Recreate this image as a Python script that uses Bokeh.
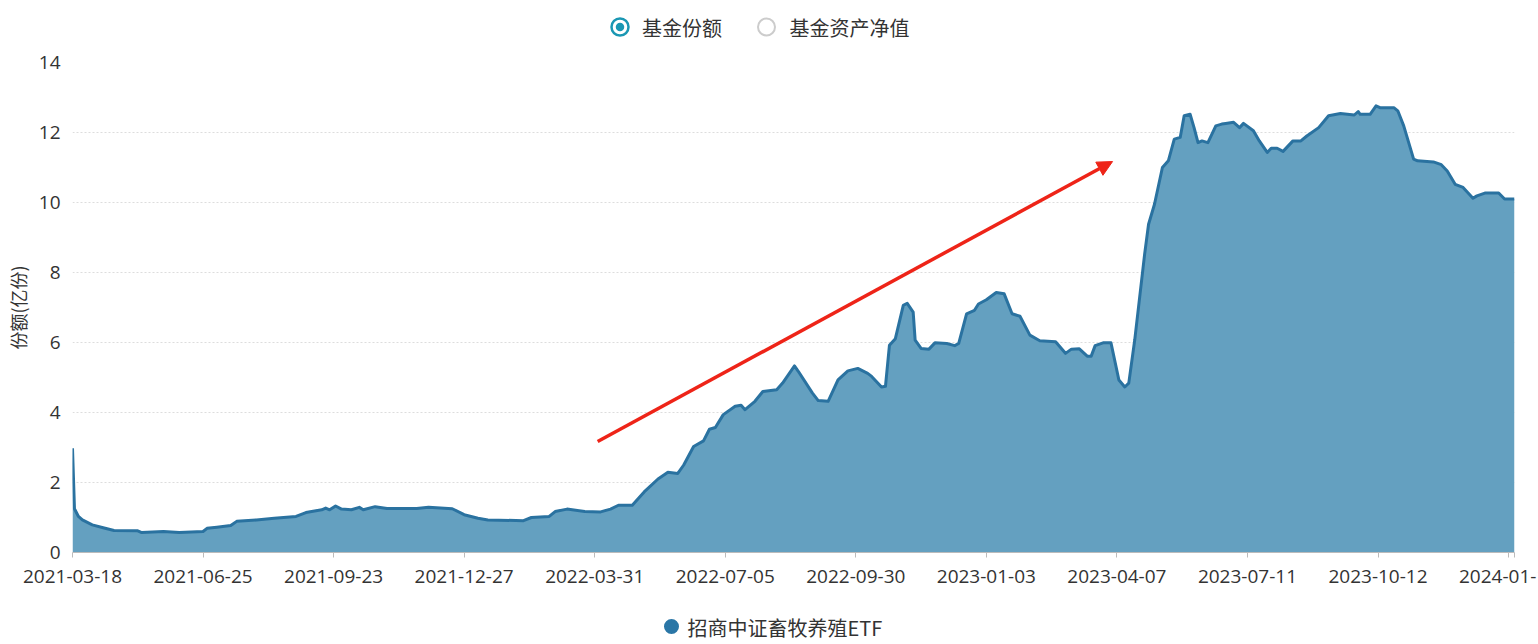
from bokeh.plotting import figure
from bokeh.models import Range1d, FixedTicker, Arrow, NormalHead
from bokeh.layouts import column
from bokeh.core.properties import value
from bokeh.embed import file_html
from bokeh.resources import INLINE

# ---------------- data ----------------
tick_labels = ["2021-03-18", "2021-06-25", "2021-09-23", "2021-12-27",
               "2022-03-31", "2022-07-05", "2022-09-30", "2023-01-03",
               "2023-04-07", "2023-07-11", "2023-10-12", "2024-01-15"]
label_step = 66  # trading days between labelled categories

trading_day = [0, 1, 3, 5, 10, 16, 21, 33, 35, 46, 54, 66, 68, 73, 80, 83, 93,
               102, 113, 118, 126, 128, 130, 133, 136, 141, 145, 147, 153, 159,
               174, 180, 192, 198, 205, 210, 228, 232, 241, 244, 250, 259, 267,
               272, 276, 283, 289, 296, 301, 306, 309, 314, 319, 322, 325, 329,
               335, 338, 340, 345, 349, 356, 359, 365, 367, 374, 377, 382, 387,
               392, 397, 402, 404, 409, 411, 413, 416, 420, 422, 425, 426, 429,
               433, 436, 442, 446, 448, 452, 456, 458, 462, 467, 471, 475, 479,
               484, 489, 497, 502, 505, 509, 513, 515, 517, 521, 525, 529, 532,
               534, 537, 542, 544, 547, 551, 554, 557, 560, 562, 565, 567, 569,
               571, 574, 578, 581, 583, 587, 590, 592, 597, 600, 604, 606, 609,
               612, 617, 621, 624, 630, 635, 641, 648, 650, 651, 656, 659, 661,
               668, 670, 673, 678, 680, 688, 692, 695, 699, 703, 708, 710, 714,
               721, 724, 729]

share = [2.98, 1.25, 1.03, 0.93, 0.79, 0.70, 0.63, 0.62, 0.57, 0.60, 0.57, 0.60,
         0.69, 0.72, 0.77, 0.89, 0.93, 0.98, 1.03, 1.14, 1.22, 1.27, 1.22, 1.33,
         1.24, 1.22, 1.29, 1.22, 1.31, 1.26, 1.26, 1.29, 1.25, 1.08, 0.98, 0.93,
         0.91, 1.00, 1.03, 1.17, 1.24, 1.17, 1.16, 1.24, 1.35, 1.35, 1.73, 2.10,
         2.29, 2.26, 2.50, 3.03, 3.19, 3.52, 3.57, 3.94, 4.18, 4.21, 4.08, 4.32,
         4.60, 4.65, 4.84, 5.33, 5.17, 4.56, 4.34, 4.32, 4.93, 5.19, 5.26, 5.12,
         5.03, 4.73, 4.75, 5.92, 6.11, 7.06, 7.12, 6.87, 6.07, 5.83, 5.81, 5.99,
         5.97, 5.91, 5.97, 6.82, 6.92, 7.10, 7.22, 7.43, 7.39, 6.82, 6.75, 6.21,
         6.05, 6.02, 5.69, 5.81, 5.82, 5.61, 5.61, 5.91, 5.99, 5.99, 4.93, 4.73,
         4.84, 6.07, 8.52, 9.38, 9.95, 11.00, 11.19, 11.81, 11.86, 12.48, 12.52,
         12.14, 11.71, 11.76, 11.71, 12.19, 12.24, 12.26, 12.29, 12.14, 12.26,
         12.05, 11.76, 11.43, 11.55, 11.55, 11.46, 11.76, 11.76, 11.90, 12.14,
         12.48, 12.54, 12.50, 12.60, 12.52, 12.52, 12.76, 12.71, 12.71, 12.62,
         12.19, 11.24, 11.19, 11.16, 11.08, 10.90, 10.52, 10.43, 10.12, 10.19,
         10.27, 10.27, 10.10, 10.10]

y_ticks = [0, 2, 4, 6, 8, 10, 12, 14]
series_name = "招商中证畜牧养殖ETF"
tab_labels = ["基金份额", "基金资产净值"]
y_title = "份额(亿份)"

# annotation arrow (data coordinates)
arrow_start = (265.5, 3.17)
arrow_end = (525.8, 11.17)

# ---------------- styles ----------------
LINE = "#2a72a0"
FILL = "#64a0c0"
TEAL = "#1a97b3"
RED = "#ee2418"
TXT = "#333333"
CJK = "Noto Sans CJK SC"
W = 1538
FRAME_L, FRAME_R = 72, 1514   # plot frame edges (px); shared by all rows (column aligns frames)

# ---------------- top tabs (legend-like selector) ----------------
top = figure(width=W, height=40, x_range=Range1d(FRAME_L, FRAME_R), y_range=Range1d(40, 0),
             toolbar_location=None, output_backend="svg",
             x_axis_location=None, y_axis_location=None, min_border=0)
top.grid.visible = False
top.outline_line_color = None
top.scatter([619.5], [26.5], size=17, fill_color="white", line_color=TEAL, line_width=2.5)
top.scatter([619.5], [26.5], size=8.5, fill_color=TEAL, line_color=None)
top.text([641.5], [26.5], text=[tab_labels[0]], text_baseline="middle",
         text_font=value(CJK), text_font_size="20px", text_color=TXT)
top.scatter([766], [26.5], size=17, fill_color="white", line_color="#cccccc", line_width=2)
top.text([789], [26.5], text=[tab_labels[1]], text_baseline="middle",
         text_font=value(CJK), text_font_size="20px", text_color=TXT)

# ---------------- main chart ----------------
last_day = trading_day[-1]
p = figure(width=W, height=564, x_range=Range1d(0, last_day), y_range=Range1d(0, 14),
           toolbar_location=None, output_backend="svg",
           min_border_left=FRAME_L, min_border_right=W - FRAME_R,
           min_border_top=22, min_border_bottom=52)
p.outline_line_color = None

p.varea(x=trading_day, y1=0, y2=share, fill_color=FILL, fill_alpha=1.0)
p.line(trading_day, share, line_color=LINE, line_width=3, line_join="round")

p.add_layout(Arrow(end=NormalHead(size=15, fill_color=RED, line_color=RED),
                   x_start=arrow_start[0], y_start=arrow_start[1],
                   x_end=arrow_end[0], y_end=arrow_end[1],
                   line_color=RED, line_width=3.5))

tick_days = [i * label_step for i in range(len(tick_labels))]
overrides = {d: lab for d, lab in zip(tick_days, tick_labels)}
overrides[last_day] = ""
p.xaxis.ticker = FixedTicker(ticks=tick_days + [last_day])
p.xaxis.major_label_overrides = overrides
p.xaxis.minor_tick_line_color = None
p.xaxis.major_tick_out = 5
p.xaxis.major_tick_in = 0
p.xaxis.axis_line_color = "#bbbbbb"
p.xaxis.major_tick_line_color = "#bbbbbb"
p.xaxis.major_label_standoff = 12
p.xaxis.major_label_text_font = "Open Sans"
p.xaxis.major_label_text_font_size = "19px"
p.xaxis.major_label_text_color = TXT

p.yaxis.ticker = FixedTicker(ticks=y_ticks)
p.yaxis.axis_line_color = None
p.yaxis.major_tick_line_color = None
p.yaxis.major_tick_out = 0
p.yaxis.major_tick_in = 0
p.yaxis.minor_tick_line_color = None
p.yaxis.minor_tick_out = 0
p.yaxis.major_label_standoff = 12
p.yaxis.major_label_text_font = "Open Sans"
p.yaxis.major_label_text_font_size = "19px"
p.yaxis.major_label_text_color = TXT
p.yaxis.axis_label = y_title
p.yaxis.axis_label_text_font = CJK
p.yaxis.axis_label_text_font_size = "18px"
p.yaxis.axis_label_text_font_style = "normal"
p.yaxis.axis_label_text_color = TXT
p.yaxis.axis_label_standoff = 5

p.xgrid.grid_line_color = None
p.ygrid.grid_line_color = "#dddddd"
p.ygrid.grid_line_dash = "2 2"
p.ygrid.grid_line_width = 1

# ---------------- bottom series legend ----------------
bot = figure(width=W, height=40, x_range=Range1d(FRAME_L, FRAME_R), y_range=Range1d(40, 0),
             toolbar_location=None, output_backend="svg",
             x_axis_location=None, y_axis_location=None, min_border=0)
bot.grid.visible = False
bot.outline_line_color = None
bot.scatter([671], [22], size=15, fill_color="#2a76a6", line_color=None)
bot.text([687], [23], text=[series_name], text_baseline="middle",
         text_font=value(CJK), text_font_size="20px", text_color=TXT)

layout = column(top, p, bot, spacing=0)
open("out.html", "w").write(file_html(layout, INLINE))
